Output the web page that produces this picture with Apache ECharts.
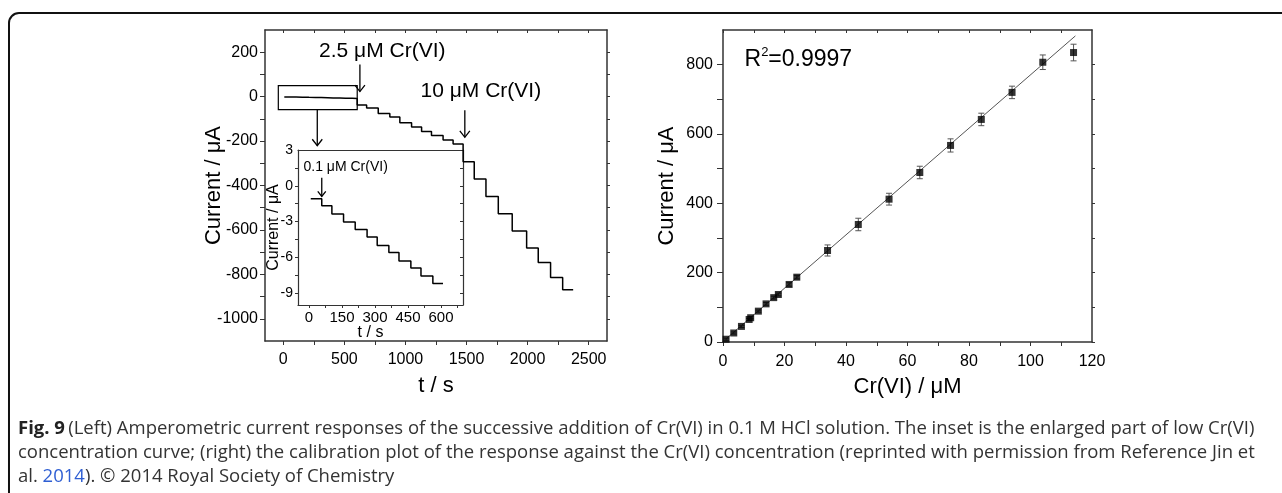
<!DOCTYPE html>
<html><head><meta charset="utf-8">
<script src="https://cdn.jsdelivr.net/npm/echarts@6/dist/echarts.min.js"></script>
<style>html,body{margin:0;padding:0;background:#fff;}#c{width:1282px;height:493px;}</style>
</head><body><div id="c"></div>
<script>
// ---------- DATA ----------
// Inset (low concentration, 0.1 uM additions): step start times (s) and current levels (uA)
const insetTimes  = [8, 58, 104, 157, 210, 264, 310, 363, 409, 463, 509, 563];
const insetLevels = [-1.08, -1.67, -2.36, -3.03, -3.67, -4.3, -5.0, -5.6, -6.3, -6.9, -7.56, -8.2];
const insetEnd = 609;
// 2.5 uM additions
const midTimes  = [605, 682, 777, 872, 954, 1050, 1132, 1213, 1308, 1390];
const midLevels = [-38, -51, -76, -92, -117, -137, -157, -175, -195, -213];
// 10 uM additions
const highTimes  = [1472, 1563, 1659, 1760, 1874, 1992, 2087, 2188, 2287];
const highLevels = [-293, -371, -449, -527, -605, -681, -747, -814, -869];
const mainEnd = 2373;

// Calibration plot
const concX      = [1, 3.5, 6, 8.5, 9, 11.5, 14, 16.5, 18, 21.5, 24, 34, 44, 54, 64, 74, 84, 94, 104, 114];
const currentY   = [8, 26, 45, 65, 70, 89, 110, 128, 137, 166, 187, 264, 339, 412, 489, 567, 642, 720, 807, 835];
const currentErr = [3, 3, 3, 3, 3, 3, 4, 4, 4, 5, 5, 16, 18, 17, 18, 19, 18, 18, 21, 24];
const fitX = [1, 114.6];
const fitY = [9, 883];

// Tick labels
const leftXLabels  = [0, 500, 1000, 1500, 2000, 2500];
const leftXTicks   = [0, 250, 500, 750, 1000, 1250, 1500, 1750, 2000, 2250, 2500];
const leftYLabels  = [-1000, -800, -600, -400, -200, 0, 200];
const leftYTicks   = [-1000, -900, -800, -700, -600, -500, -400, -300, -200, -100, 0, 100, 200];
const insetXLabels = [0, 150, 300, 450, 600];
const insetXTicks  = [0, 75, 150, 225, 300, 375, 450, 525, 600, 675];
const insetYLabels = [-9, -6, -3, 0, 3];
const insetYTicks  = [-9, -7.5, -6, -4.5, -3, -1.5, 0, 1.5];
const rightXLabels = [0, 20, 40, 60, 80, 100, 120];
const rightXTicks  = [0, 10, 20, 30, 40, 50, 60, 70, 80, 90, 100, 110];
const rightYLabels = [0, 200, 400, 600, 800];
const rightYTicks  = [0, 100, 200, 300, 400, 500, 600, 700, 800];

// ---------- BUILD ----------
function steps(times, levels, end) {
  const d = times.map((t, i) => [t, levels[i]]);
  if (end != null) d.push([end, levels[levels.length - 1]]);
  return d;
}
const mainData = steps(insetTimes.concat(midTimes, highTimes), insetLevels.concat(midLevels, highLevels), mainEnd);
const insetData = steps(insetTimes, insetLevels, insetEnd);
const scatterData = concX.map((x, i) => [x, currentY[i], currentErr[i]]);
const fitData = fitX.map((x, i) => [x, fitY[i]]);

const FONT = '"Liberation Sans", Arial, Helvetica, sans-serif';
const AX = '#333';

function axis(gridIndex, position, min, max, o) {
  o = o || {};
  return {
    type: 'value', gridIndex: gridIndex, position: position, min: min, max: max,
    splitLine: {show: false},
    axisLine: {show: true, onZero: false, lineStyle: {color: AX, width: o.lw || 1.5}},
    axisTick: {show: !!o.ticks, inside: !!o.inside, length: o.tickLen || 4,
      customValues: o.ticks, lineStyle: {color: AX, width: 1}},
    axisLabel: {show: !!o.labels, customValues: o.labels, margin: o.margin || 8,
      color: '#000', fontFamily: FONT, fontSize: o.fs || 16, formatter: function (v) { return String(v); }},
    name: o.name || '', nameLocation: 'middle', nameGap: o.nameGap || 30, nameMoveOverlap: false,
    nameTextStyle: {color: '#000', fontFamily: FONT, fontSize: o.nameFs || 22, padding: o.namePad || 0}
  };
}

const option = {
  animation: false,
  backgroundColor: '#fff',
  grid: [
    {left: 265, top: 30, width: 342, height: 311},
    {left: 298, top: 150, width: 165, height: 155, show: true, backgroundColor: '#fff', borderWidth: 0},
    {left: 723, top: 30, width: 369, height: 312}
  ],
  xAxis: [
    axis(0, 'bottom', -150, 2650, {ticks: leftXTicks, labels: leftXLabels, tickLen: 4, margin: 11, name: 't / s', nameGap: 34}),
    axis(0, 'top', -150, 2650, {ticks: leftXTicks, inside: true, tickLen: 3}),
    axis(1, 'bottom', -50, 700, {ticks: insetXTicks, labels: insetXLabels, tickLen: 3, margin: 5, fs: 15, lw: 1.2, name: 't / s', nameGap: 20, nameFs: 16, namePad: [0, 20, 0, 0]}),
    axis(1, 'top', -50, 700, {lw: 1.2}),
    axis(2, 'bottom', 0, 120, {ticks: rightXTicks, labels: rightXLabels, tickLen: 4, margin: 12, name: 'Cr(VI) / μM', nameGap: 34}),
    axis(2, 'top', 0, 120, {ticks: rightXTicks, inside: true, tickLen: 3})
  ],
  yAxis: [
    axis(0, 'left', -1100, 300, {ticks: leftYTicks, labels: leftYLabels, tickLen: 5, margin: 7, name: 'Current / μA', nameGap: 40}),
    axis(0, 'right', -1100, 300, {ticks: leftYTicks, tickLen: 3}),
    axis(1, 'left', -10, 3, {ticks: insetYTicks, labels: insetYLabels, tickLen: 3, margin: 5, fs: 14, lw: 1.2, name: 'Current / μA', nameGap: 16, nameFs: 16}),
    axis(1, 'right', -10, 3, {ticks: insetYTicks, inside: true, tickLen: 3, lw: 1.2}),
    axis(2, 'left', 0, 900, {ticks: rightYTicks, labels: rightYLabels, tickLen: 6, margin: 10, name: 'Current / μA', nameGap: 45}),
    axis(2, 'right', 0, 900, {ticks: rightYTicks, tickLen: 3})
  ],
  series: [
    {type: 'line', xAxisIndex: 0, yAxisIndex: 0, data: mainData, step: 'end', showSymbol: false,
      lineStyle: {color: '#000', width: 1.5}, z: 5},
    {type: 'line', xAxisIndex: 2, yAxisIndex: 2, data: insetData, step: 'end', showSymbol: false,
      lineStyle: {color: '#000', width: 1.5}, z: 5},
    {type: 'line', xAxisIndex: 4, yAxisIndex: 4, data: fitData, showSymbol: false,
      lineStyle: {color: '#555', width: 1}, z: 3},
    {type: 'custom', xAxisIndex: 4, yAxisIndex: 4, data: scatterData, encode: {x: 0, y: 1}, z: 4,
      renderItem: function (params, api) {
        const x = api.value(0), y = api.value(1), e = api.value(2);
        const t = api.coord([x, y + e]), b = api.coord([x, y - e]);
        const hw = 3, st = {stroke: '#555', lineWidth: 1};
        return {type: 'group', children: [
          {type: 'line', shape: {x1: t[0], y1: t[1], x2: b[0], y2: b[1]}, style: st},
          {type: 'line', shape: {x1: t[0] - hw, y1: t[1], x2: t[0] + hw, y2: t[1]}, style: st},
          {type: 'line', shape: {x1: b[0] - hw, y1: b[1], x2: b[0] + hw, y2: b[1]}, style: st}
        ]};
      }},
    {type: 'scatter', xAxisIndex: 4, yAxisIndex: 4, data: scatterData, symbol: 'rect', symbolSize: 7,
      itemStyle: {color: '#000'}, z: 6}
  ]
};

const chart = echarts.init(document.getElementById('c'), null, {renderer: 'canvas'});
chart.setOption(option);

// ---------- ANNOTATIONS (anchored in data coordinates) ----------
const M = {seriesIndex: 0}, I = {seriesIndex: 1}, R = {seriesIndex: 2};
const P = (f, pt) => chart.convertToPixel(f, pt);
const g = [];
function arrowDown(x, yTop, yTip, h) {
  g.push({type: 'line', shape: {x1: x, y1: yTop, x2: x, y2: yTip}, style: {stroke: '#000', lineWidth: 1.3}, z: 100});
  g.push({type: 'polyline', shape: {points: [[x - h, yTip - h * 1.3], [x, yTip], [x + h, yTip - h * 1.3]]},
    style: {stroke: '#000', fill: null, lineWidth: 1.3}, z: 100});
}
function label(pos, text, size, align) {
  g.push({type: 'text', x: pos[0], y: pos[1], z: 100,
    style: {text: text, fontFamily: FONT, fontSize: size, fill: '#000', align: align || 'center', verticalAlign: 'middle'}});
}
// frame
g.push({type: 'rect', shape: {x: 9, y: 13, width: 1320, height: 520, r: 10},
  style: {fill: null, stroke: '#111', lineWidth: 2}, z: 100});
// zoom rectangle
const r1 = P(M, [-41, 50]), r2 = P(M, [605, -58]);
g.push({type: 'rect', shape: {x: r1[0], y: r1[1], width: r2[0] - r1[0], height: r2[1] - r1[1]},
  style: {fill: null, stroke: '#000', lineWidth: 1.2}, z: 100});
const ra = P(M, [278, -221]);
arrowDown(ra[0], r2[1], ra[1], 5);
// 2.5 uM
const a1 = P(M, [627, 145]), a1t = P(M, [627, 23]);
arrowDown(a1[0], a1[1], a1t[1], 5);
label(P(M, [810, 204]), '2.5 μM Cr(VI)', 21);
// 10 uM
const a2 = P(M, [1486, -61]), a2t = P(M, [1486, -183]);
arrowDown(a2[0], a2[1], a2t[1], 5);
label(P(M, [1617, 26]), '10 μM Cr(VI)', 21);
// inset annotation
label(P(I, [-25, 1.54]), '0.1 μM Cr(VI)', 14, 'left');
const a3 = P(I, [58, 0.67]), a3t = P(I, [58, -0.9]);
arrowDown(a3[0], a3[1], a3t[1], 4);
// R^2
const rp = P(R, [7, 815]);
g.push({type: 'text', x: rp[0], y: rp[1], z: 100, style: {
  text: '{r|R}{s|2}{r|=0.9997}', verticalAlign: 'middle', align: 'left',
  rich: {
    r: {fontFamily: FONT, fontSize: 23, fill: '#000', lineHeight: 28},
    s: {fontFamily: FONT, fontSize: 13, fill: '#000', lineHeight: 14, verticalAlign: 'top'}
  }}});
// caption
const CF = '"Open Sans", "Noto Sans", sans-serif';
const CS = 18.5;
g.push({type: 'text', x: 18, y: 417, z: 100, style: {
  text: '{b|Fig. 9} {n|(Left) Amperometric current responses of the successive addition of Cr(VI) in 0.1 M HCl solution. The inset is the enlarged part of low Cr(VI)}\n' +
        '{n|concentration curve; (right) the calibration plot of the response against the Cr(VI) concentration (reprinted with permission from Reference Jin et}\n' +
        '{n|al. }{l|2014}{n|). © 2014 Royal Society of Chemistry}',
  align: 'left', verticalAlign: 'top',
  rich: {
    b: {fontFamily: CF, fontSize: CS, fontWeight: 'bold', fill: '#222', lineHeight: 24},
    n: {fontFamily: CF, fontSize: CS, fill: '#333', lineHeight: 24},
    l: {fontFamily: CF, fontSize: CS, fill: '#2f5fd3', lineHeight: 24}
  }}});
chart.setOption({graphic: {elements: g}});
</script></body></html>
